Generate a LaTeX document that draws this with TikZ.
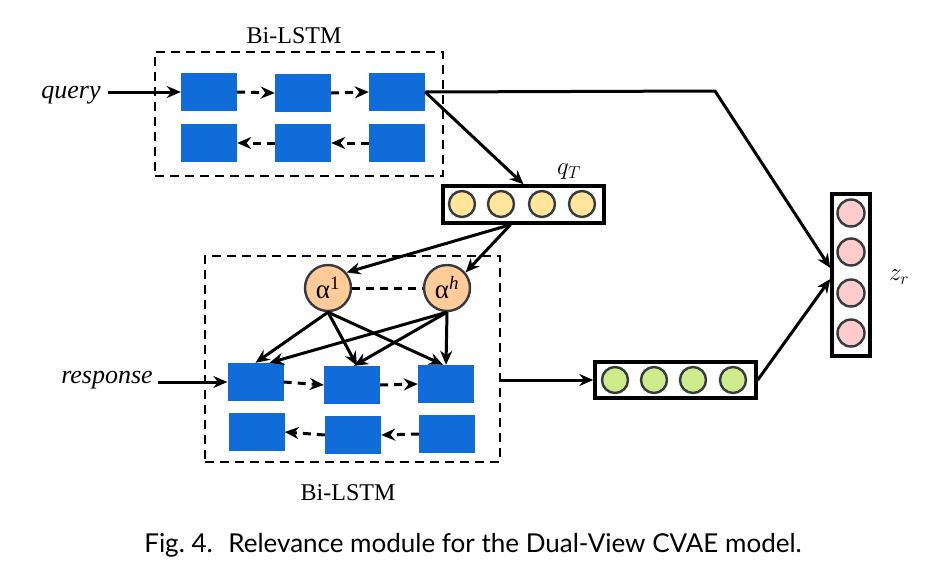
\documentclass[tikz,border=0pt]{standalone}
\usepackage{fontspec}
\setmainfont{Liberation Serif}
\newfontfamily\capfont{Lato}
\usetikzlibrary{arrows.meta}
\definecolor{lstmblue}{RGB}{16,108,217}
\definecolor{cellgray}{RGB}{54,57,61}
\definecolor{qyellow}{RGB}{255,229,153}
\definecolor{attorange}{RGB}{255,204,153}
\definecolor{rgreen}{RGB}{205,235,139}
\definecolor{zpink}{RGB}{255,204,204}
\begin{document}
\begin{tikzpicture}[x=1pt, y=-1pt,
	blk/.style={fill=lstmblue, minimum width=56pt, minimum height=38pt, inner sep=0pt},
	vecbox/.style={draw, line width=3.4pt, inner sep=0pt},
	cell/.style={circle, draw=cellgray, line width=2.4pt, minimum size=26pt, inner sep=0pt},
	att/.style={circle, draw=cellgray, line width=2.4pt, fill=attorange, minimum size=46pt, inner sep=0pt, font=\fontsize{27}{32}\selectfont},
	lstmbox/.style={draw, dash pattern=on 9pt off 6pt, line width=2.8pt, inner sep=0pt},
	arr/.style={-{Stealth[length=14pt,width=12pt]}, line width=3pt},
	darr/.style={arr, dash pattern=on 8pt off 6pt},
	lbl/.style={font=\fontsize{24}{28}\selectfont}]
	\useasboundingbox (0,0) rectangle (927,584);
	% Bi-LSTM boxes
	\node[lstmbox, minimum width=288pt, minimum height=124pt] at (299,114) (qbox) {};
	\node[lstmbox, minimum width=295pt, minimum height=206pt] at (352.5,359) (rbox) {};
	\node[lbl] at (294,36) (qlstm) {Bi-LSTM};
	\node[lbl] at (348,493) (rlstm) {Bi-LSTM};
	% query cells
	\node[blk] at (209,92) (qf1) {};
	\node[blk] at (303,93) (qf2) {};
	\node[blk] at (397,92) (qf3) {};
	\node[blk] at (209,143) (qb1) {};
	\node[blk] at (303,143) (qb2) {};
	\node[blk] at (397,143) (qb3) {};
	\draw[darr] (qf1.east) -- (qf2.west);
	\draw[darr] (qf2.east) -- (qf3.west);
	\draw[darr] (qb3.west) -- (qb2.east);
	\draw[darr] (qb2.west) -- (qb1.east);
	% response cells
	\node[blk] at (255.5,382) (rf1) {};
	\node[blk] at (352,385) (rf2) {};
	\node[blk] at (446,384) (rf3) {};
	\node[blk] at (256.5,432) (rb1) {};
	\node[blk] at (353,435) (rb2) {};
	\node[blk] at (447,434) (rb3) {};
	\draw[darr] (rf1.east) -- (rf2.west);
	\draw[darr] (rf2.east) -- (rf3.west);
	\draw[darr] (rb3.west) -- (rb2.east);
	\draw[darr] (rb2.west) -- (rb1.east);
	% inputs
	\node[font=\fontsize{26}{30}\selectfont\itshape] at (71,95) (qlab) {query};
	\node[font=\fontsize{26}{30}\selectfont\itshape] at (107,380) (rlab) {response};
	\draw[arr] ([xshift=4pt]qlab.east |- qf1.west) -- (qf1.west);
	\draw[arr] ([xshift=2pt]rlab.east |- rf1.west) -- (rf1.west);
	% q_T vector
	\node[vecbox, minimum width=161pt, minimum height=37pt] at (523.5,204.5) (qtv) {};
	\foreach \x [count=\i] in {462,501,542,582}
		\node[cell, fill=qyellow] at (\x,204) (qt\i) {};
	\node[font=\fontsize{25}{30}\selectfont] at (569,172) (qtlab) {$q_T$};
	\draw[arr] (qf3.east) -- (qtv.north);
	% attention heads
	\node[att] at (328,288) (a1) {α\textsuperscript{1}};
	\node[att] at (447,288) (ah) {α\textsuperscript{\itshape h}};
	\draw[dash pattern=on 8pt off 6pt, line width=3pt] (a1.east) -- (ah.west);
	\draw[arr] ([xshift=-13pt]qtv.south) -- (a1.40);
	\draw[arr] ([xshift=-13pt]qtv.south) -- (ah.40);
	\draw[arr] (a1.south) -- (rf1.north);
	\draw[arr] (a1.south) -- ([xshift=5pt]rf2.north);
	\draw[arr] (a1.south) -- ([xshift=-3pt]rf3.north);
	\draw[arr] (ah.south) -- ([xshift=14pt]rf1.north);
	\draw[arr] (ah.south) -- ([xshift=2pt]rf2.north);
	\draw[arr] (ah.south) -- (rf3.north);
	% response vector
	\node[vecbox, minimum width=161pt, minimum height=36pt] at (675.5,380) (gv) {};
	\foreach \x [count=\i] in {615,654,693,733}
		\node[cell, fill=rgreen] at (\x,380) (g\i) {};
	\draw[arr] (rbox.east |- gv.west) -- (gv.west);
	% z_r vector
	\node[vecbox, minimum width=38pt, minimum height=162pt] at (851,275) (zrv) {};
	\foreach \y [count=\i] in {213,252,293,333}
		\node[cell, fill=zpink, minimum size=27pt] at (851,\y) (z\i) {};
	\node[font=\fontsize{25}{30}\selectfont] at (899,277) (zrlab) {$z_r$};
	\coordinate (bend) at (715,91);
	\draw[arr] (qf3.east) -- (bend) -- ([yshift=7pt]zrv.west);
	\draw[arr] (gv.east) -- ([yshift=-4pt]zrv.west);
	% caption
	\node[font=\capfont\fontsize{26}{30}\selectfont] at (473,545) (cap) {Fig.~4.\hspace{0.6em}Relevance module for the Dual-View CVAE model.};
\end{tikzpicture}
\end{document}
